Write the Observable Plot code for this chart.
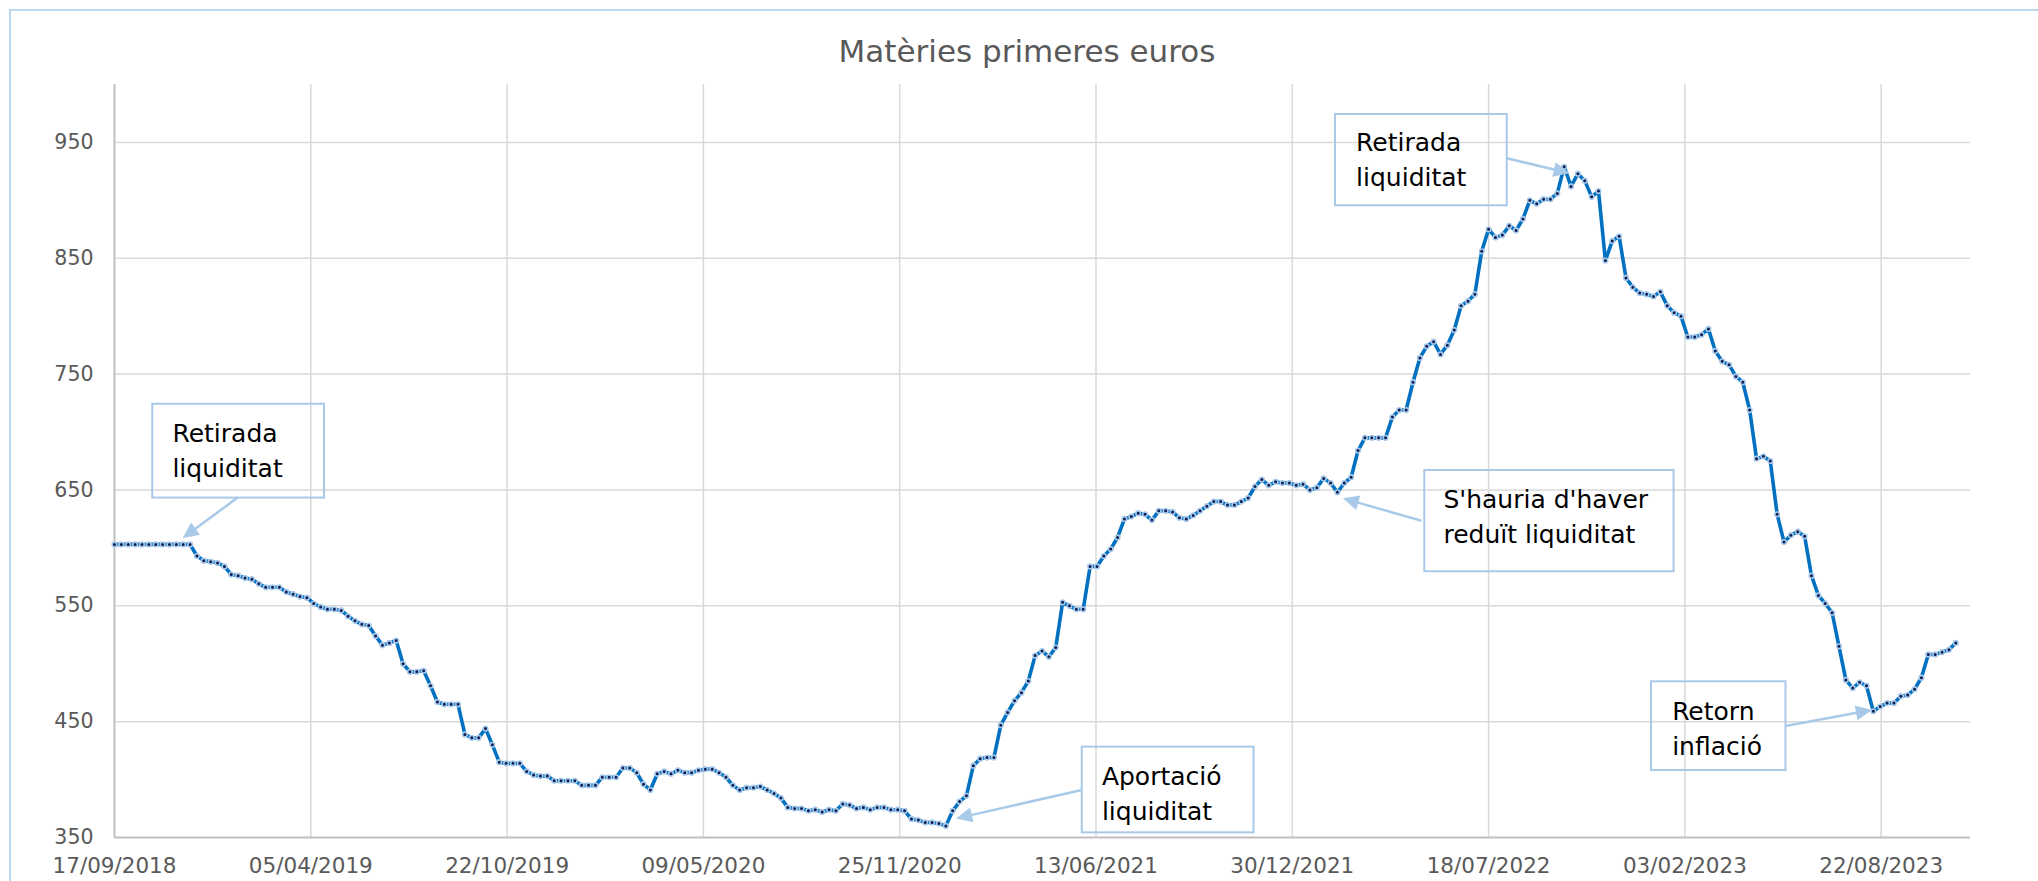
<!DOCTYPE html>
<html><head><meta charset="utf-8">
<script src="https://cdn.jsdelivr.net/npm/d3@7"></script>
<script src="https://cdn.jsdelivr.net/npm/@observablehq/plot@0.6"></script>
<style>
html,body{margin:0;padding:0;background:#fff;}
#wrap{position:relative;width:2038px;height:881px;overflow:hidden;background:#fff;}
#frame{position:absolute;left:9px;top:9px;width:2100px;height:1000px;border:2px solid #bdd7ee;box-sizing:border-box;}
#title{position:absolute;left:0;width:2054px;top:31px;text-align:center;font-family:"DejaVu Sans";font-size:31px;color:#595959;line-height:40px;}
#chart{position:absolute;left:0;top:0;}
</style></head><body>
<div id="wrap"><div id="frame"></div><div id="title">Matèries primeres euros</div><div id="chart"></div></div>
<script>
// Weekly series start (one value per week)
const startDate = "2018-09-17";
const values = [
603,603,603,603,603,603,603,603,603,603,
603,603,593,589,588,587,584,577,576,574,
573,569,566,566,566,562,560,558,557,552,
549,547,547,546,541,537,534,533,524,516,
518,520,500,493,493,494,481,467,465,465,
465,439,436,436,444,430,415,414,414,414,
407,404,403,403,399,399,399,399,395,395,
395,402,402,402,410,410,406,396,391,405,
407,405,408,406,406,408,409,409,406,402,
395,391,393,393,394,391,388,384,376,375,
375,373,374,372,374,373,379,378,375,376,
374,376,376,374,374,373,366,365,363,363,
362,360,373,381,386,412,418,419,419,447,
458,468,475,485,507,511,506,514,553,550,
547,547,584,584,593,599,609,625,627,630,
629,624,632,632,631,626,625,628,632,636,
640,640,637,637,640,643,653,659,654,657,
656,656,654,655,650,652,660,656,648,656,
661,684,695,695,695,695,713,719,719,743,
764,774,778,767,775,788,809,813,819,856,
875,868,870,878,874,884,900,897,901,901,
906,929,912,923,917,903,908,848,865,869,
833,825,820,819,817,821,809,803,800,782,
782,784,789,770,761,758,748,743,719,677,
679,675,629,605,611,614,610,576,559,552,
544,515,486,479,484,481,459,463,466,466,
472,473,478,488,508,508,510,512,518
];
const xTickDates = ["2018-09-17","2019-04-05","2019-10-22","2020-05-09","2020-11-25","2021-06-13","2021-12-30","2022-07-18","2023-02-03","2023-08-22"];
const yTicks = [350,450,550,650,750,850,950];
const xDomain = ["2018-09-17","2023-11-21"];
const yDomain = [350,1000];

// Callout annotations (data coordinates)
const noteLabels = ["Retirada\nliquiditat","Aportació\nliquiditat","S'hauria d'haver\nreduït liquiditat","Retirada\nliquiditat","Retorn\ninflació"];
const noteBoxX1 = ["2018-10-26","2021-05-30","2022-05-14","2022-02-12","2022-12-31"];
const noteBoxX2 = ["2019-04-19","2021-11-21","2023-01-23","2022-08-06","2023-05-17"];
const noteBoxY1 = [643,354,579.4,895.3,407.8];
const noteBoxY2 = [724,428,666.8,974.1,484.4];
const noteTextX = ["2018-11-15","2021-06-19","2022-06-02","2022-03-05","2023-01-21"];
const noteTextY = [661,365.5,604,912.6,421.6];
const arrowFromX = ["2019-01-21","2021-05-30","2022-05-11","2022-08-06","2023-05-17"];
const arrowFromY = [643,390.6,623,935.9,445.8];
const arrowToX = ["2018-11-26","2021-01-22","2022-02-20","2022-10-09","2023-08-13"];
const arrowToY = [608,366,642.4,923,459.6];

const parse = s => new Date(s + "T00:00:00Z");
const start = parse(startDate);
const data = values.map((v, i) => ({date: d3.utcDay.offset(start, 7 * i), value: v}));
const notes = noteLabels.map((t, i) => ({
  label: t,
  x1: parse(noteBoxX1[i]), x2: parse(noteBoxX2[i]), y1: noteBoxY1[i], y2: noteBoxY2[i],
  tx: parse(noteTextX[i]), ty: noteTextY[i]
}));
const fmt = d3.utcFormat("%d/%m/%Y");
const FONT = "DejaVu Sans";

const chart = Plot.plot({
  width: 2038, height: 881,
  marginTop: 84, marginBottom: 44, marginLeft: 114, marginRight: 68,
  style: {fontFamily: FONT, fontSize: "20px", color: "#595959", background: "transparent", overflow: "visible"},
  x: {type: "utc", domain: xDomain.map(parse)},
  y: {domain: yDomain},
  marks: [
    Plot.ruleX(xTickDates.slice(1).map(parse), {stroke: "#d9d9d9", strokeWidth: 1.5}),
    Plot.ruleY(yTicks.slice(1), {stroke: "#d9d9d9", strokeWidth: 1.5}),
    Plot.ruleX([parse(xTickDates[0])], {stroke: "#bfbfbf", strokeWidth: 2}),
    Plot.ruleY([yTicks[0]], {stroke: "#bfbfbf", strokeWidth: 2}),
    Plot.axisY({ticks: yTicks, tickSize: 0, tickPadding: 21, fontSize: 20.5, label: null}),
    Plot.axisX({ticks: xTickDates.map(parse), tickFormat: fmt, tickSize: 0, tickPadding: 20, fontSize: 21.5, label: null}),
    Plot.line(data, {x: "date", y: "value", stroke: "#0070c0", strokeWidth: 3.6, curve: "linear"}),
    Plot.dot(data, {x: "date", y: "value", r: 2.3, fill: "#0b1f55", stroke: "#a9c9ea", strokeWidth: 1.6}),
    Plot.rect(notes, {x1: "x1", x2: "x2", y1: "y1", y2: "y2", fill: "none", stroke: "#a9c9e8", strokeWidth: 2}),
    Plot.text(notes, {x: "tx", y: "ty", text: "label", textAnchor: "start", lineAnchor: "bottom", lineHeight: 1.4, fontSize: 25, fill: "#000", fontFamily: FONT})
  ]
});
document.getElementById("chart").appendChild(chart);

// Callout arrows with filled heads, positioned through the chart's scales
const xs = chart.scale("x"), ys = chart.scale("y");
const g = d3.select(chart).append("g").attr("fill", "#a9c9e8").attr("stroke", "#a9c9e8");
arrowFromX.forEach((fx, i) => {
  const x1 = xs.apply(parse(fx)), y1 = ys.apply(arrowFromY[i]);
  const x2 = xs.apply(parse(arrowToX[i])), y2 = ys.apply(arrowToY[i]);
  const dx = x2 - x1, dy = y2 - y1, len = Math.hypot(dx, dy);
  const ux = dx / len, uy = dy / len, hl = 16, hw = 7.5;
  const bx = x2 - ux * hl, by = y2 - uy * hl;
  g.append("line").attr("x1", x1).attr("y1", y1).attr("x2", bx + ux * 2).attr("y2", by + uy * 2).attr("stroke-width", 2.5);
  g.append("path").attr("stroke", "none")
    .attr("d", `M${x2},${y2}L${bx - uy * hw},${by + ux * hw}L${bx + uy * hw},${by - ux * hw}Z`);
});
</script>
</body></html>
